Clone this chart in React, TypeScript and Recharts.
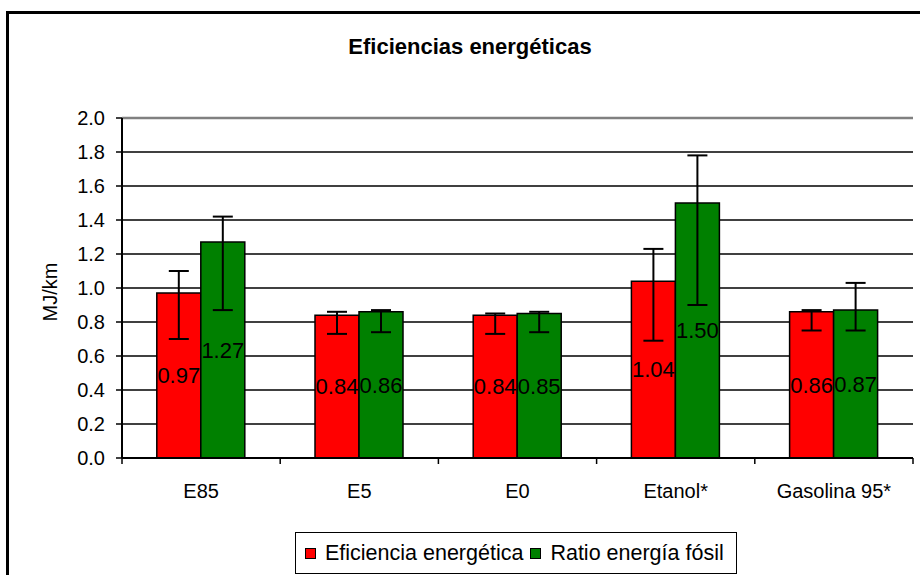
import { BarChart, Bar, XAxis, YAxis, CartesianGrid, ErrorBar, LabelList, Legend, ReferenceLine } from 'recharts';

// categories and values
const categories = ['E85', 'E5', 'E0', 'Etanol*', 'Gasolina 95*'];
const eficiencia = [0.97, 0.84, 0.84, 1.04, 0.86];
const ratioFosil = [1.27, 0.86, 0.85, 1.5, 0.87];
// error bars as [down, up]
const eficienciaErr = [[0.27, 0.13], [0.11, 0.02], [0.11, 0.01], [0.35, 0.19], [0.11, 0.01]];
const ratioErr = [[0.4, 0.15], [0.12, 0.01], [0.11, 0.01], [0.6, 0.28], [0.12, 0.16]];
const yTicks = [0, 0.2, 0.4, 0.6, 0.8, 1.0, 1.2, 1.4, 1.6, 1.8, 2.0];

const seriesNames = ['Eficiencia energética', 'Ratio energía fósil'];
const seriesColors = ['#ff0000', '#008000'];

const data = categories.map((name, i) => ({
  name,
  eficiencia: eficiencia[i],
  ratio: ratioFosil[i],
  eficienciaErr: eficienciaErr[i],
  ratioErr: ratioErr[i],
}));

const font = '"Liberation Sans", Arial, sans-serif';

// category label in the middle, tick marks on band edges
const CategoryTick = (props: any) => {
  const { x, y, payload, index } = props;
  const half = payload.offset || 0;
  const axisY = y - 6;
  return (
    <g>
      <line x1={x - half} y1={axisY} x2={x - half} y2={axisY + 6} stroke="#000" strokeWidth={1.5} />
      {index === categories.length - 1 && (
        <line x1={x + half} y1={axisY} x2={x + half} y2={axisY + 6} stroke="#000" strokeWidth={1.5} />
      )}
      <text x={x} y={axisY + 40} textAnchor="middle" fontSize={20} fill="#000">
        {payload.value}
      </text>
    </g>
  );
};

const YLabel = (props: any) => {
  const { viewBox } = props;
  const cx = 50;
  const cy = viewBox.y + viewBox.height / 2 + 4;
  return (
    <text x={cx} y={cy} transform={`rotate(-90, ${cx}, ${cy})`} textAnchor="middle" dominantBaseline="central" fontSize={20} fill="#000">
      MJ/km
    </text>
  );
};

const LegendBox = () => (
  <div
    style={{
      boxSizing: 'border-box',
      height: 42,
      width: 442,
      border: '1px solid #000',
      display: 'flex',
      alignItems: 'center',
      paddingLeft: 9,
      fontSize: 21.5,
      fontFamily: font,
      whiteSpace: 'nowrap',
    }}
  >
    {seriesNames.map((n, i) => (
      <span key={n} style={{ display: 'flex', alignItems: 'center', marginRight: 7 }}>
        <span style={{ display: 'inline-block', width: 9, height: 9, border: '1.5px solid #000', background: seriesColors[i], marginRight: 9 }} />
        {n}
      </span>
    ))}
  </div>
);

export default function App() {
  return (
    <div style={{ position: 'fixed', left: 0, top: 0, width: 920, height: 575, overflow: 'hidden', background: '#fff', fontFamily: font }}>
      <div style={{ position: 'absolute', left: 6, top: 11, width: 1000, height: 700, border: '3px solid #000' }} />
      <div style={{ position: 'absolute', left: 0, width: 940, top: 34, textAlign: 'center', fontWeight: 'bold', fontSize: 22 }}>
        Eficiencias energéticas
      </div>
      <div style={{ position: 'absolute', left: 0, top: 0 }}>
        <BarChart
          width={920}
          height={575}
          data={data}
          margin={{ top: 118, right: 7, left: 0, bottom: 1 }}
          barCategoryGap="22%"
          barGap={0}
        >
          <CartesianGrid horizontal vertical={false} stroke="#000" strokeWidth={1.3} />
          <XAxis
            dataKey="name"
            height={74}
            interval={0}
            tickSize={6}
            tickMargin={0}
            tickLine={false}
            axisLine={{ stroke: '#000', strokeWidth: 2 }}
            tick={<CategoryTick />}
          />
          <YAxis
            width={122}
            domain={[0, 2]}
            ticks={yTicks}
            interval={0}
            tickFormatter={(v: number) => v.toFixed(1)}
            tick={{ fontSize: 20, fill: '#000' }}
            tickSize={6}
            tickMargin={11}
            tickLine={{ stroke: '#000', strokeWidth: 1.5 }}
            axisLine={{ stroke: '#000', strokeWidth: 2 }}
            label={<YLabel />}
          />
          <YAxis
            yAxisId="r"
            orientation="right"
            width={0}
            domain={[0, 2]}
            tick={false}
            tickLine={false}
            axisLine={{ stroke: '#808080', strokeWidth: 2.5 }}
          />
          <ReferenceLine y={2} stroke="#808080" strokeWidth={2.5} />
          <Legend
            verticalAlign="bottom"
            content={<LegendBox />}
            wrapperStyle={{ left: 295, width: 442, height: 42, bottom: 1 }}
          />
          <Bar dataKey="eficiencia" name={seriesNames[0]} fill={seriesColors[0]} stroke="#000" strokeWidth={1.5} isAnimationActive={false}>
            <ErrorBar dataKey="eficienciaErr" direction="y" width={10} stroke="#000" strokeWidth={2} />
            <LabelList dataKey="eficiencia" position="center" fill="#000" fontSize={22} formatter={(v: any) => Number(v).toFixed(2)} />
          </Bar>
          <Bar dataKey="ratio" name={seriesNames[1]} fill={seriesColors[1]} stroke="#000" strokeWidth={1.5} isAnimationActive={false}>
            <ErrorBar dataKey="ratioErr" direction="y" width={10} stroke="#000" strokeWidth={2} />
            <LabelList dataKey="ratio" position="center" fill="#000" fontSize={22} formatter={(v: any) => Number(v).toFixed(2)} />
          </Bar>
        </BarChart>
      </div>
    </div>
  );
}
